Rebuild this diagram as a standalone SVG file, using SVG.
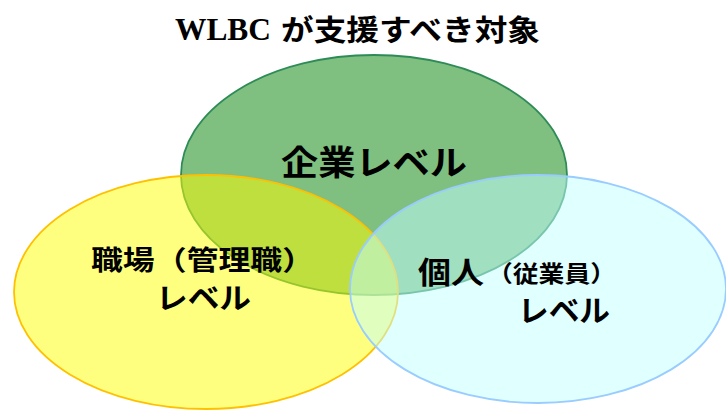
<svg xmlns="http://www.w3.org/2000/svg" width="726" height="410" viewBox="0 0 726 410">
<style>
.jp{font-family:"Noto Sans CJK JP","Noto Sans CJK SC",sans-serif;font-weight:700;fill:#000}
.lat{font-family:"Liberation Serif","Times New Roman",serif;font-weight:700;fill:#000}
.ell{stroke-width:1.8}
</style>
<rect width="726" height="410" fill="#fff"/>
<g id="title">
<text class="lat" x="175" y="40" font-size="31" textLength="96" lengthAdjust="spacingAndGlyphs">WLBC</text>
<text class="jp" x="281" y="41" font-size="29" textLength="259" lengthAdjust="spacingAndGlyphs">が支援すべき対象</text>
</g>
<g id="company">
<ellipse class="ell" cx="374" cy="175" rx="193" ry="120" fill="#008000" fill-opacity="0.5" stroke="#2E8B57"/>
<text class="jp" x="281" y="175" font-size="34" textLength="186" lengthAdjust="spacingAndGlyphs">企業レベル</text>
</g>
<g id="workplace">
<ellipse class="ell" cx="206" cy="292" rx="192" ry="117" fill="#FFFF00" fill-opacity="0.5" stroke="#FFC000"/>
</g>
<g id="individual">
<ellipse class="ell" cx="538" cy="289" rx="188" ry="114" fill="#C2FFFF" fill-opacity="0.5" stroke="#99CCFF"/>
</g>
<g id="labels">
<text class="jp" x="91" y="270" font-size="27" textLength="223" lengthAdjust="spacingAndGlyphs">職場（管理職）</text>
<text class="jp" x="156" y="309" font-size="29" textLength="95" lengthAdjust="spacingAndGlyphs">レベル</text>
<text class="jp" x="418" y="283" font-size="30" textLength="66" lengthAdjust="spacingAndGlyphs">個人</text>
<text class="jp" x="487" y="282" font-size="23" textLength="129" lengthAdjust="spacingAndGlyphs">（従業員）</text>
<text class="jp" x="518" y="321" font-size="30" textLength="92" lengthAdjust="spacingAndGlyphs">レベル</text>
</g>
<g id="connectors"/>
</svg>
